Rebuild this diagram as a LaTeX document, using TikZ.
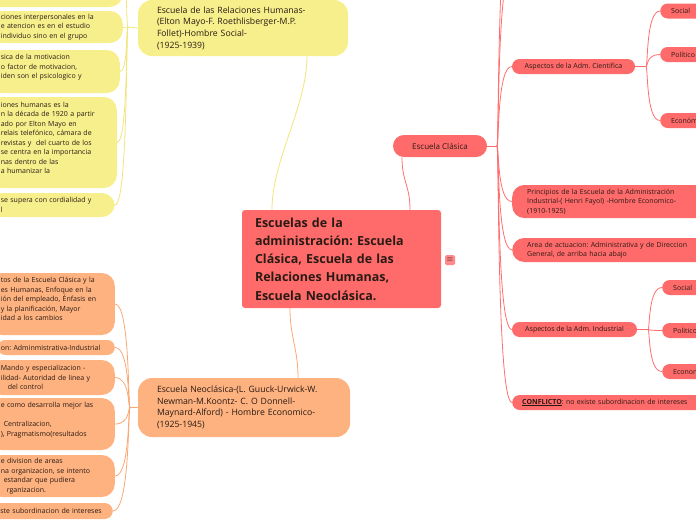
\documentclass[tikz,border=0pt]{standalone}
\usepackage{fontspec}
\setmainfont{Open Sans}
\usetikzlibrary{backgrounds}
\frenchspacing

\definecolor{rojo}{HTML}{FF6B6B}
\definecolor{amarillo}{HTML}{F7EF8C}
\definecolor{naranja}{HTML}{FDB27F}
\definecolor{lamarillo}{HTML}{F2E47C}
\definecolor{lnaranja}{HTML}{FBA774}
\definecolor{lrojo}{HTML}{FF6E6E}
\definecolor{tinta}{HTML}{2A1A14}

\tikzset{
  centro/.style={fill=rojo, rounded corners=3, align=left, text width=173, inner xsep=13,
    minimum width=199, minimum height=98, font=\fontsize{12.5}{18.3}\selectfont\bfseries},
  icono/.style={fill=rojo!80!white, rounded corners=1.5, minimum size=10, inner sep=0,
    font=\fontsize{8}{8}\selectfont},
  escuela/.style={align=left, inner xsep=19, rounded corners=14, font=\fontsize{8.7}{11.6}\selectfont},
  clasica/.style={fill=rojo, rounded corners=11, minimum width=94, minimum height=22, inner sep=0,
    font=\fontsize{8}{8}\selectfont},
  rama/.style={fill=rojo, rounded corners=7.5, minimum height=15, inner sep=0,
    font=\fontsize{7}{9.5}\selectfont},
  hoja/.style={fill=rojo, anchor=west, align=left, text width=60, inner xsep=11, inner ysep=0,
    minimum height=15, rounded corners=7.5, font=\fontsize{7}{9.5}\selectfont},
  bloque/.style={fill=rojo, anchor=west, align=left, text width=200, inner xsep=15, inner ysep=0,
    rounded corners=12, font=\fontsize{7}{9.5}\selectfont},
  izq/.style={anchor=east, align=left, inner xsep=12, inner ysep=0, rounded corners=13,
    font=\fontsize{7}{9.5}\selectfont},
  lamar/.style={draw=lamarillo, line width=0.8},
  lnar/.style={draw=lnaranja, line width=0.8},
  lroj/.style={draw=lrojo, line width=0.8}
}

\begin{document}
\begin{tikzpicture}[x=1pt, y=-1pt, every node/.style={text=tinta}]
\useasboundingbox (0,0) rectangle (696,520);
\clip (0,0) rectangle (696,520);

% nodo central
\node[centro] (centro) at (341.5,259) {Escuelas de la\\administración: Escuela\\Clásica, Escuela de las\\Relaciones Humanas,\\Escuela Neoclásica.};
\node[icono] (menu) at (450,260) {$\equiv$};

% escuela de las relaciones humanas
\node[escuela, fill=amarillo, text width=172, minimum width=210, minimum height=56] (relhum) at (243,28)
  {Escuela de las Relaciones Humanas-\\(Elton Mayo-F. Roethlisberger-M.P.\\Follet)-Hombre Social-\\(1925-1939)};
\node[izq, fill=amarillo, text width=110, minimum height=40] (ytope) at (123,-13) {};
\node[izq, fill=amarillo, text width=110, minimum height=32] (yinter) at (123,27)
  {ciones interpersonales en la\\e atencion es en el estudio\\individuo sino en el grupo};
\node[izq, fill=amarillo, text width=107, minimum height=43] (ymotiv) at (120,71.5)
  {sica de la motivacion\\o factor de motivacion,\\iden son el psicologico y\\\mbox{}};
\node[izq, fill=amarillo, text width=104, minimum height=91] (yhist) at (117,142.5)
  {iones humanas es la\\n la década de 1920 a partir\\ado por Elton Mayo en\\relais telefónico, cámara de\\revistas y\ \ del cuarto de los\\se centra en la importancia\\nas dentro de las\\a humanizar la\\\mbox{}};
\node[izq, fill=amarillo, text width=102, minimum height=24] (ycordial) at (115,205)
  {se supera con cordialidad y\\l};

% escuela neoclasica
\node[escuela, fill=naranja, text width=174, minimum width=212, minimum height=59] (neo) at (244,407.5)
  {Escuela Neoclásica-(L. Guuck-Urwick-W.\\Newman-M.Koontz- C. O Donnell-\\Maynard-Alford) - Hombre Economico-\\(1925-1945)};
\node[izq, fill=naranja, text width=102, minimum height=62] (oaportes) at (115,304)
  {tos de la Escuela Clásica y la\\es Humanas, Enfoque en la\\ión del empleado, Énfasis en\\y la planificación, Mayor\\idad a los cambios\\\mbox{}};
\node[izq, fill=naranja, text width=111, inner xsep=3, minimum height=15, rounded corners=7.5] (oarea) at (115,347.5)
  {on: Adminmistrativa-Industrial};
\node[izq, fill=naranja, text width=102, minimum height=35] (omando) at (115,377.5)
  {Mando y especializacion -\\ilidad- Autoridad de linea y\\\hspace*{7pt}del control};
\node[izq, fill=naranja, text width=102, minimum height=52] (ocentral) at (115,424)
  {e como desarrolla mejor las\\\mbox{}\\\hspace*{3pt}Centralizacion,\\), Pragmatismo(resultados\\\mbox{}};
\node[izq, fill=naranja, text width=102, minimum height=42] (odivision) at (115,476)
  {e division de areas\\na organizacion, se intento\\\hspace*{3pt}estandar que pudiera\\\hspace*{6pt}rganizacion.};
\node[izq, fill=naranja, align=right, text width=130, inner xsep=11, minimum height=16, rounded corners=8] (oconflicto) at (113,511)
  {ste subordinacion de intereses};

% escuela clasica
\node[clasica] (clasica) at (440,146) {Escuela Clásica};
\node[rama, minimum width=123] (cientifica) at (573.5,66.5) {Aspectos de la Adm. Cientifica};
\node[hoja] (social1) at (660,11) {Social};
\node[hoja] (politico1) at (660,54.5) {Político};
\node[hoja] (economico1) at (660,120.5) {Económico};
\node[bloque, minimum height=33] (principios) at (512,201.5)
  {Principios de la Escuela de la Administración\\Industrial-( Henri Fayol) -Hombre Economico-\\(1910-1925)};
\node[bloque, minimum height=24] (area) at (512,250)
  {Area de actuacion: Administrativa y de Direccion\\General, de arriba hacia abajo};
\node[rama, minimum width=125] (industrial) at (574.5,329.5) {Aspectos de la Adm. Industrial};
\node[hoja] (social2) at (662,287.5) {Social};
\node[hoja] (politico2) at (662,330.5) {Politico};
\node[hoja] (economico2) at (662,371.5) {Economico};
\node[bloque, minimum height=15, inner xsep=10, rounded corners=7.5] (conflicto) at (512,402.5)
  {\underline{\textbf{CONFLICTO}}: no existe subordinacion de intereses};

% conectores
\begin{scope}[on background layer]
  \coordinate (yj) at (128,27);
  \coordinate (oj) at (130,407.5);
  \coordinate (rj) at (497,146);
  \coordinate (cj) at (646,66.5);
  \coordinate (ij) at (648,329.5);
  \coordinate (arriba1) at (512,-30);
  \coordinate (arriba2) at (512,-90);

  \draw[lamar] ([xshift=-69.5pt]centro.north) .. controls +(0,-50) and +(0,50) .. ([xshift=64pt]relhum.south);
  \draw[lroj] ([xshift=68.5pt]centro.north) .. controls +(0,-25) and +(0,25) .. ([xshift=-38pt]clasica.south);
  \draw[lnar] ([xshift=-51.5pt]centro.south) .. controls +(0,30) and +(0,-30) .. ([xshift=54pt]neo.north);

  \draw[lamar] (relhum.west) -- (yj);
  \foreach \n in {ytope, yinter, ymotiv, yhist, ycordial}
    \draw[lamar] (yj) .. controls +(-2,0) and (yj |- \n.east) .. (\n.east);

  \draw[lnar] (neo.west) -- (oj);
  \foreach \n in {oaportes, oarea, omando, ocentral, odivision, oconflicto}
    \draw[lnar] (oj) .. controls +(-2,0) and (oj |- \n.east) .. (\n.east);

  \draw[lroj] (clasica.east) -- (rj);
  \foreach \n in {arriba1, arriba2}
    \draw[lroj] (rj) .. controls +(2,0) and (rj |- \n) .. (\n);
  \foreach \n in {cientifica, principios, area, industrial, conflicto}
    \draw[lroj] (rj) .. controls +(2,0) and (rj |- \n.west) .. (\n.west);

  \draw[lroj] (cientifica.east) -- (cj);
  \foreach \n in {social1, politico1, economico1}
    \draw[lroj] (cj) .. controls +(2,0) and (cj |- \n.west) .. (\n.west);

  \draw[lroj] (industrial.east) -- (ij);
  \foreach \n in {social2, politico2, economico2}
    \draw[lroj] (ij) .. controls +(2,0) and (ij |- \n.west) .. (\n.west);
\end{scope}
\end{tikzpicture}
\end{document}
